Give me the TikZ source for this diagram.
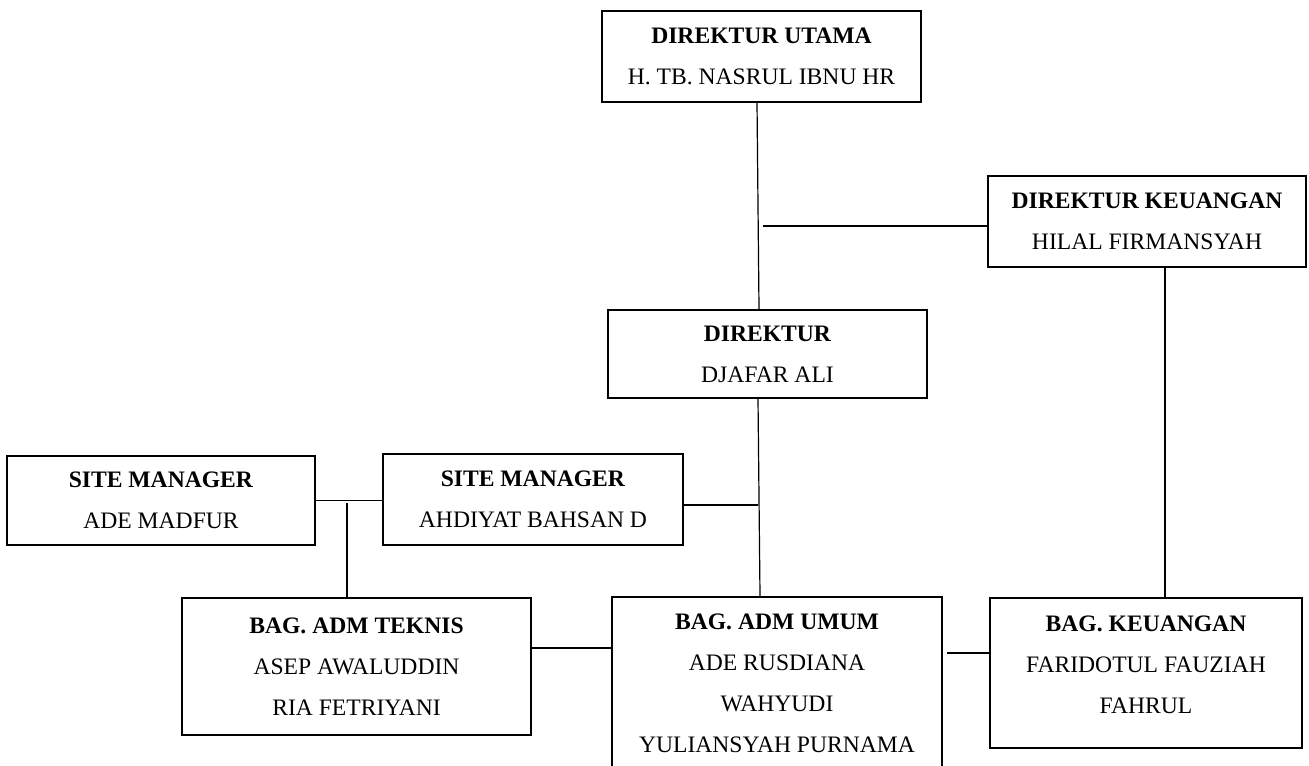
\documentclass[tikz,border=0pt]{standalone}
\usepackage{fontspec}
\setmainfont{Liberation Serif}
\usepackage{tikz}
\usetikzlibrary{positioning, calc}

\begin{document}
\begin{tikzpicture}[
  x=0.5pt, y=-0.5pt,
  box/.style={draw, rectangle, line width=1.15pt, align=center,
    inner sep=0pt, font=\fontsize{11.8}{20.5}\selectfont},
  link/.style={line width=0.6pt}
]
  \useasboundingbox (0,0) rectangle (1309,765);

  % Direksi
  \node[box, minimum width=159.5pt, minimum height=45.5pt] (du) at (761.5,56.5)
    {\textbf{DIREKTUR UTAMA}\\H. TB. NASRUL IBNU HR};
  \node[box, minimum width=159pt, minimum height=45.5pt] (dk) at (1147,221.5)
    {\textbf{DIREKTUR KEUANGAN}\\HILAL FIRMANSYAH};
  \node[box, minimum width=159.5pt, minimum height=44pt] (dir) at (767.5,354)
    {\textbf{DIREKTUR}\\DJAFAR ALI};

  % Site manager
  \node[box, minimum width=154pt, minimum height=44.5pt] (sm1) at (161,500.5)
    {\textbf{SITE MANAGER}\\ADE MADFUR};
  \node[box, minimum width=150pt, minimum height=45.5pt] (sm2) at (533,499.5)
    {\textbf{SITE MANAGER}\\AHDIYAT BAHSAN D};

  % Bagian
  \node[box, minimum width=174.5pt, minimum height=68.5pt] (bt) at (356.5,666.5)
    {\textbf{BAG. ADM TEKNIS}\\ASEP AWALUDDIN\\RIA FETRIYANI};
  \node[box, minimum width=165pt, minimum height=86.5pt] (bu) at (777,683.5)
    {\textbf{BAG. ADM UMUM}\\ADE RUSDIANA\\WAHYUDI\\YULIANSYAH PURNAMA};
  \node[box, minimum width=156pt, minimum height=75pt, text depth=8pt] (bk)
    at (1146,673) {\textbf{BAG. KEUANGAN}\\FARIDOTUL FAUZIAH\\FAHRUL};

  % Junctions
  \coordinate (tap) at (763,226);
  \coordinate (j1) at (758,505);
  \coordinate (j2) at (347,503);
  \coordinate (kk) at (1165,267);
  \coordinate (ua) at (947,653);

  % Connections
  \draw[link] (du.south -| 757,0) -- (dir.north -| 759,0);
  \draw[link] (tap) -- (tap -| dk.west);
  \draw[link] (kk) -- (kk |- bk.north);
  \draw[link] (dir.south -| 758,0) -- (bu.north -| 760,0);
  \draw[link] (j1 -| sm2.east) -- (j1);
  \draw[link] (sm1.east) -- (sm1.east -| sm2.west);
  \draw[link] (j2) -- (j2 |- bt.north);
  \draw[link] (bt.east |- 0,648) -- (bu.west |- 0,648);
  \draw[link] (ua) -- (ua -| bk.west);
\end{tikzpicture}
\end{document}
